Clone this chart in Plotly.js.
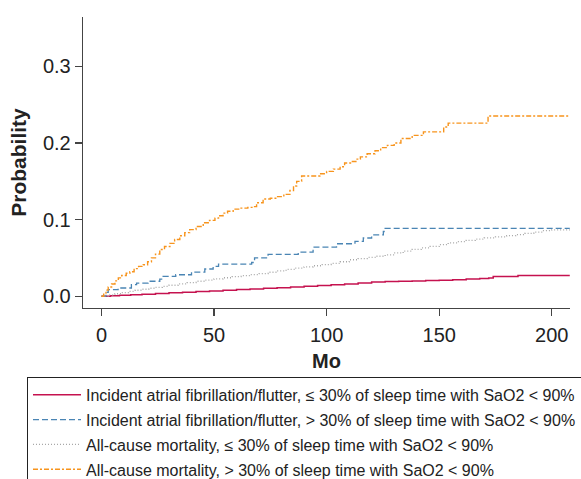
<!DOCTYPE html>
<html>
<head>
<meta charset="utf-8">
<script src="https://cdn.plot.ly/plotly-3.0.1.min.js"></script>
<style>html,body{margin:0;padding:0;background:#fff;}#chart{width:581px;height:479px;}</style>
</head>
<body>
<div id="chart"></div>
<script>
// Series names
const seriesNames = [
  "Incident atrial fibrillation/flutter, \u2264 30% of sleep time with SaO2 < 90%",
  "Incident atrial fibrillation/flutter, > 30% of sleep time with SaO2 < 90%",
  "All-cause mortality, \u2264 30% of sleep time with SaO2 < 90%",
  "All-cause mortality, > 30% of sleep time with SaO2 < 90%"
];

// Incident AF, <=30%
const afLowX = [0, 4, 8, 13, 18, 24, 30, 36, 42, 48, 54, 60, 66, 72, 78, 84, 90, 96, 102, 108, 114, 120, 126, 132, 138, 144, 150, 156, 162, 168, 172, 174, 185, 208];
const afLowY = [0, 0.0006, 0.0012, 0.002, 0.0027, 0.0035, 0.0044, 0.0053, 0.0061, 0.0069, 0.0079, 0.0087, 0.0095, 0.0103, 0.0111, 0.012, 0.013, 0.014, 0.015, 0.016, 0.0172, 0.0185, 0.0193, 0.0196, 0.02, 0.0204, 0.021, 0.0216, 0.0224, 0.0232, 0.0237, 0.0258, 0.0271, 0.0271];

// Incident AF, >30%
const afHighX = [0, 2, 3, 7.4, 13.3, 15.6, 20.7, 25.9, 27.4, 33, 40, 45.9, 49.6, 52, 66.7, 68, 74, 87.4, 94, 104.4, 112.6, 116.3, 120, 125.2, 126, 208];
const afHighY = [0, 0.005, 0.0085, 0.0107, 0.015, 0.0172, 0.0195, 0.0224, 0.0258, 0.028, 0.0315, 0.0355, 0.039, 0.042, 0.044, 0.05, 0.0545, 0.0575, 0.064, 0.0685, 0.0715, 0.076, 0.08, 0.0845, 0.0885, 0.0885];

// All-cause mortality, <=30%
const mortLowX = [0, 3, 6, 9, 12, 15, 18, 21, 24, 27, 30, 34, 38, 42, 46, 50, 54, 58, 62, 66, 70, 74, 78, 82, 86, 90, 94, 98, 102, 106, 110, 114, 118, 122, 126, 130, 134, 138, 142, 146, 150, 154, 158, 162, 166, 170, 175, 180, 184, 188, 192, 196, 200, 208];
const mortLowY = [0, 0.0016, 0.0032, 0.0048, 0.0064, 0.0078, 0.0091, 0.0104, 0.0116, 0.0129, 0.0143, 0.0161, 0.0178, 0.0195, 0.021, 0.0226, 0.0241, 0.0256, 0.0269, 0.0283, 0.0296, 0.0313, 0.033, 0.035, 0.0368, 0.0383, 0.0398, 0.0413, 0.0428, 0.045, 0.0476, 0.0492, 0.0507, 0.0522, 0.054, 0.0565, 0.059, 0.0612, 0.0632, 0.065, 0.0673, 0.0697, 0.0713, 0.073, 0.0746, 0.0762, 0.0775, 0.079, 0.0803, 0.082, 0.0838, 0.0856, 0.0866, 0.0876];

// All-cause mortality, >30%
const mortHighX = [0, 1, 2, 3, 4.5, 6, 7.5, 9, 11, 12.6, 14.5, 16.5, 18.5, 20.5, 22.2, 24, 25.9, 28, 30.4, 32.5, 34.8, 37, 39.2, 42, 45.2, 48, 50.4, 52, 54, 56, 58.5, 62, 65, 67.4, 68.9, 71.8, 75, 77.8, 81, 83.7, 85.3, 86.7, 88.9, 95, 97, 100, 103, 106, 108, 111, 113, 115, 118, 121.5, 124, 127, 130, 133, 138, 143, 152, 154, 171.7, 208];
const mortHighY = [0, 0.004, 0.008, 0.012, 0.016, 0.02, 0.024, 0.027, 0.03, 0.032, 0.036, 0.039, 0.041, 0.045, 0.05, 0.055, 0.061, 0.065, 0.069, 0.074, 0.079, 0.083, 0.087, 0.091, 0.096, 0.099, 0.102, 0.105, 0.1085, 0.111, 0.1137, 0.115, 0.116, 0.117, 0.122, 0.127, 0.128, 0.13, 0.133, 0.138, 0.144, 0.15, 0.157, 0.157, 0.16, 0.163, 0.166, 0.169, 0.174, 0.176, 0.179, 0.182, 0.186, 0.19, 0.194, 0.197, 0.2, 0.206, 0.21, 0.2146, 0.221, 0.226, 0.2354, 0.2354];

// Axis ticks
const xTicks = [0, 50, 100, 150, 200];
const yTicks = [0, 0.1, 0.2, 0.3];
const yTickLabels = ["0.0", "0.1", "0.2", "0.3"];

const FONT = "Arial, 'Liberation Sans', Helvetica, sans-serif";

const traces = [
  {x: afLowX, y: afLowY, name: seriesNames[0], mode: "lines", legendgroup: "g1",
   line: {shape: "hv", color: "#c5124f", width: 1.5}},
  {x: afHighX, y: afHighY, name: seriesNames[1], mode: "lines", legendgroup: "g2",
   line: {shape: "hv", color: "#4a85b4", width: 1.3, dash: "6px,3px"}},
  {x: mortLowX, y: mortLowY, name: seriesNames[2], mode: "lines", legendgroup: "g3",
   line: {shape: "hv", color: "#a8a8a8", width: 1.3, dash: "1px,2px"}},
  {x: mortHighX, y: mortHighY, name: seriesNames[3], mode: "lines", legendgroup: "g4",
   line: {shape: "hv", color: "#f7941d", width: 1.4, dash: "5px,2px,2px,2px"}}
];

const layout = {
  width: 581, height: 479,
  margin: {l: 83, r: 11, t: 17, b: 171, autoexpand: false},
  paper_bgcolor: "#fff", plot_bgcolor: "#fff",
  font: {family: FONT, color: "#222"},
  showlegend: true,
  legend: {
    x: -0.115, xanchor: "left", y: -0.237, yanchor: "top",
    bordercolor: "#222", borderwidth: 1, itemwidth: 48,
    font: {size: 16, family: FONT, color: "#222"},
    bgcolor: "#fff", traceorder: "grouped", tracegroupgap: 1
  },
  xaxis: {
    range: [-8.2, 208.1], tickvals: xTicks, ticktext: xTicks.map(String),
    showgrid: false, zeroline: false, showline: true, linecolor: "#444", linewidth: 1.3,
    ticks: "outside", ticklen: 7, tickcolor: "#444", tickwidth: 1.2,
    ticklabelstandoff: 2,
    tickfont: {size: 20, family: FONT, color: "#222"},
    title: {text: "<b>Mo</b>", font: {size: 20, family: FONT, color: "#222"}, standoff: 8}
  },
  yaxis: {
    range: [-0.0154, 0.3646], tickvals: yTicks, ticktext: yTickLabels,
    showgrid: false, zeroline: false, showline: true, linecolor: "#444", linewidth: 1.3,
    ticks: "outside", ticklen: 7, tickcolor: "#444", tickwidth: 1.2,
    tickfont: {size: 20, family: FONT, color: "#222"},
    title: {text: "<b>Probability</b>", font: {size: 21, family: FONT, color: "#222"}, standoff: 10}
  }
};

Plotly.newPlot("chart", traces, layout, {displayModeBar: false, staticPlot: true});
</script>
</body>
</html>
